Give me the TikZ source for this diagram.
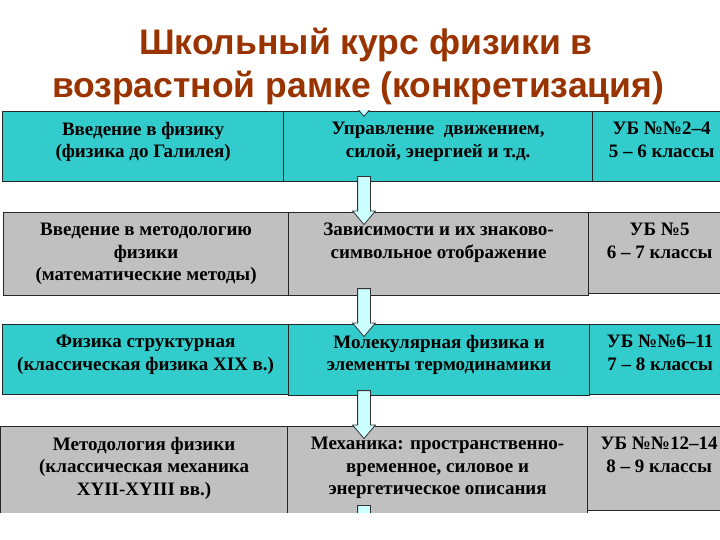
\documentclass[tikz,border=0pt]{standalone}
\usepackage{fontspec}
\setmainfont{Liberation Serif}
\newfontfamily\titlefont{Liberation Sans}
\usetikzlibrary{shapes.arrows,calc}
\definecolor{titlebrown}{HTML}{993300}
\definecolor{rowcyan}{HTML}{33CCCC}
\definecolor{rowgray}{HTML}{C0C0C0}
\definecolor{arrowfill}{HTML}{CCFFFF}

\begin{document}
\begin{tikzpicture}[x=1pt,y=-1pt,
	cell/.style={draw=black!85,line width=1.2pt,anchor=north west,inner sep=0pt},
	cyancell/.style={cell,fill=rowcyan},
	graycell/.style={cell,fill=rowgray},
	celltext/.style={anchor=north,align=center,inner sep=0pt,yshift=-11pt,
		font=\bfseries\fontsize{19}{22.5}\selectfont},
	titletext/.style={anchor=base,inner sep=0pt,text=titlebrown,
		font=\titlefont\bfseries\fontsize{35.5}{40}\selectfont},
	downarrow/.style={single arrow,shape border rotate=270,draw=black!80,line width=0.8pt,
		fill=arrowfill,minimum width=22pt,minimum height=48pt,inner sep=6pt,
		single arrow head extend=5pt,single arrow tip angle=80}]
			\useasboundingbox (0,0) rectangle (720,540);
			\clip (0,0) rectangle (720,512);
			% title
			\node [titletext] (title1) at (366,55) {Школьный курс физики в};
			\node [titletext] (title2) at (358,98) {возрастной рамке (конкретизация)};
			% row 1
			\node [cyancell,minimum width=281pt,minimum height=70pt] (l1) at (2,111) {};
			\node [cyancell,minimum width=309pt,minimum height=70pt] (m1) at (283,111) {};
			\node [cyancell,minimum width=138pt,minimum height=70pt] (r1) at (592,111) {};
			\begin{scope}
				\clip (m1.north west) rectangle (m1.south east);
				\node [downarrow,anchor=tip] (a0) at ($(m1.north west)+(81,6)$) {};
			\end{scope}
			\node [celltext] (t1l) at (l1.north) {Введение в физику\\(физика до Галилея)};
			\node [celltext] (t1m) at (m1.north) {Управление\ \ движением,\\силой, энергией и т.д.};
			\node [celltext] (t1r) at (r1.north) {УБ №№2–4\\5 – 6 классы};
			% row 2
			\node [graycell,minimum width=285pt,minimum height=83pt] (l2) at (3,212) {};
			\node [graycell,minimum width=300pt,minimum height=83pt] (m2) at (288,212) {};
			\node [graycell,minimum width=142pt,minimum height=81pt] (r2) at (588,212) {};
			\node [celltext] (t2l) at (l2.north) {Введение в методологию\\физики\\(математические методы)};
			\node [celltext] (t2m) at (m2.north) {Зависимости и их знаково-\\символьное отображение};
			\node [celltext] (t2r) at (r2.north) {УБ №5\\6 – 7 классы};
			% row 3
			\node [cyancell,minimum width=286pt,minimum height=70pt] (l3) at (2,324) {};
			\node [cyancell,minimum width=301pt,minimum height=71pt] (m3) at (288,324) {};
			\node [cyancell,minimum width=141pt,minimum height=70pt] (r3) at (589,324) {};
			\node [celltext] (t3l) at (l3.north) {Физика структурная\\(классическая физика XIX в.)};
			\node [celltext] (t3m) at (m3.north) {Молекулярная физика и\\элементы термодинамики};
			\node [celltext] (t3r) at (r3.north) {УБ №№6–11\\7 – 8 классы};
			% row 4
			\node [graycell,minimum width=287pt,minimum height=100pt] (l4) at (0,426) {};
			\node [graycell,minimum width=300pt,minimum height=100pt] (m4) at (287,426) {};
			\node [graycell,minimum width=143pt,minimum height=84pt] (r4) at (587,426) {};
			\node [celltext] (t4l) at (l4.north) {Методология физики\\(классическая механика\\XYII-XYIII вв.)};
			\node [celltext] (t4m) at (m4.north) {Механика: пространственно-\\временное, силовое и\\энергетическое описания};
			\node [celltext] (t4r) at (r4.north) {УБ №№12–14\\8 – 9 классы};
			% arrows between the rows
			\node [downarrow,anchor=tail] (a1) at ($(m1.south west)+(81,-6)$) {};
			\node [downarrow,anchor=tail] (a2) at ($(m2.south west)+(76,-8)$) {};
			\node [downarrow,anchor=tail] (a3) at ($(m3.south west)+(76,-6)$) {};
			\node [downarrow,anchor=tail] (a4) at ($(m4.north west)+(77,79)$) {};
\end{tikzpicture}
\end{document}
